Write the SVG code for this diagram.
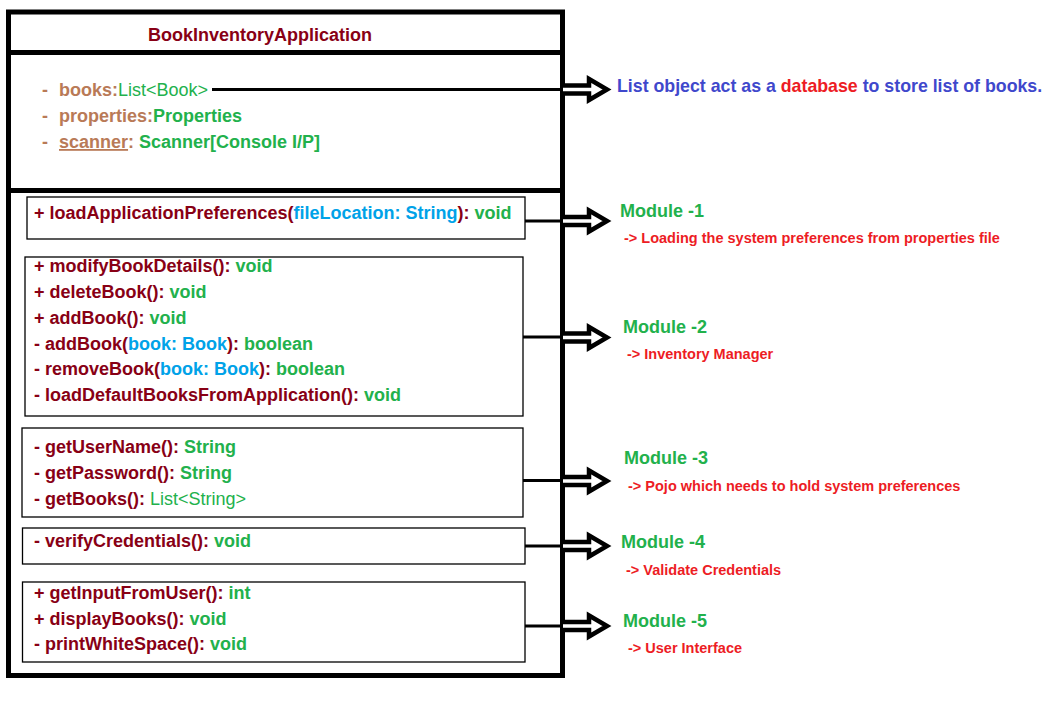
<svg xmlns="http://www.w3.org/2000/svg" width="1063" height="713" viewBox="0 0 1063 713">
<defs>
<style>
text{font-family:"Liberation Sans",Arial,sans-serif;font-weight:bold;font-size:18px}
.dr{fill:#880015}
.gr{fill:#22B14C}
.br{fill:#B97A57}
.bl{fill:#00A2E8}
.ind{fill:#3F48CC}
.rd{fill:#ED1C24}
.reg{font-weight:normal}
.desc{font-size:14.5px;fill:#ED1C24}
.note{font-size:17.75px}
.thick{fill:none;stroke:#000;stroke-width:5}
.box{fill:none;stroke:#000;stroke-width:1.3}
.conn{stroke:#000;stroke-width:3;fill:none}
.arr{fill:#fff;stroke:#000;stroke-width:4.5;stroke-linejoin:miter}
</style>
<path id="blockArrow" d="M0,-4 H26 V-10.5 L44,0 L26,10.5 V4 H0"/>
</defs>
<rect width="1063" height="713" fill="#fff"/>

<g id="class-BookInventoryApplication">
<rect class="thick" x="8.5" y="12" width="554" height="663.5"/>
<line class="thick" x1="8.5" y1="52.5" x2="562.5" y2="52.5"/>
<line class="thick" x1="8.5" y1="190.5" x2="562.5" y2="190.5"/>
<text class="dr" x="260" y="41" text-anchor="middle">BookInventoryApplication</text>
</g>

<g id="attributes">
<text class="br" x="42" y="96">-</text>
<text x="59" y="96"><tspan class="br">books:</tspan><tspan class="gr reg">List&lt;Book&gt;</tspan></text>
<text class="br" x="42" y="122">-</text>
<text x="59" y="122"><tspan class="br">properties:</tspan><tspan class="gr">Properties</tspan></text>
<text class="br" x="42" y="148">-</text>
<text x="59" y="148"><tspan class="br" text-decoration="underline">scanner</tspan><tspan class="br">:</tspan><tspan class="gr"> Scanner[Console I/P]</tspan></text>
</g>

<g id="module1-box">
<rect class="box" x="27" y="197" width="498" height="42"/>
<text x="34" y="219"><tspan class="dr">+ loadApplicationPreferences(</tspan><tspan class="bl">fileLocation: String</tspan><tspan class="dr">): </tspan><tspan class="gr">void</tspan></text>
</g>

<g id="module2-box">
<rect class="box" x="25" y="257" width="498" height="159"/>
<text x="34" y="272"><tspan class="dr">+ modifyBookDetails(): </tspan><tspan class="gr">void</tspan></text>
<text x="34" y="298"><tspan class="dr">+ deleteBook(): </tspan><tspan class="gr">void</tspan></text>
<text x="34" y="324"><tspan class="dr">+ addBook(): </tspan><tspan class="gr">void</tspan></text>
<text x="34" y="349.5"><tspan class="dr">- addBook(</tspan><tspan class="bl">book: Book</tspan><tspan class="dr">): </tspan><tspan class="gr">boolean</tspan></text>
<text x="34" y="375"><tspan class="dr">- removeBook(</tspan><tspan class="bl">book: Book</tspan><tspan class="dr">): </tspan><tspan class="gr">boolean</tspan></text>
<text x="34" y="401"><tspan class="dr">- loadDefaultBooksFromApplication(): </tspan><tspan class="gr">void</tspan></text>
</g>

<g id="module3-box">
<rect class="box" x="22" y="428" width="501" height="89"/>
<text x="34" y="453"><tspan class="dr">- getUserName(): </tspan><tspan class="gr">String</tspan></text>
<text x="34" y="479"><tspan class="dr">- getPassword(): </tspan><tspan class="gr">String</tspan></text>
<text x="34" y="505"><tspan class="dr">- getBooks(): </tspan><tspan class="gr reg">List&lt;String&gt;</tspan></text>
</g>

<g id="module4-box">
<rect class="box" x="22.5" y="528" width="502.5" height="36"/>
<text x="34" y="547"><tspan class="dr">- verifyCredentials(): </tspan><tspan class="gr">void</tspan></text>
</g>

<g id="module5-box">
<rect class="box" x="22.5" y="582" width="502.5" height="80"/>
<text x="34" y="599"><tspan class="dr">+ getInputFromUser(): </tspan><tspan class="gr">int</tspan></text>
<text x="34" y="624.5"><tspan class="dr">+ displayBooks(): </tspan><tspan class="gr">void</tspan></text>
<text x="34" y="650"><tspan class="dr">- printWhiteSpace(): </tspan><tspan class="gr">void</tspan></text>
</g>

<g id="connectors">
<line class="conn" x1="212" y1="89.5" x2="563" y2="89.5"/>
<line class="conn" x1="525" y1="221" x2="563" y2="221"/>
<line class="conn" x1="523" y1="337" x2="563" y2="337"/>
<line class="conn" x1="523" y1="480.5" x2="563" y2="480.5"/>
<line class="conn" x1="525" y1="546" x2="563" y2="546"/>
<line class="conn" x1="525" y1="626" x2="563" y2="626"/>
<use href="#blockArrow" class="arr" transform="translate(563,89.5)"/>
<use href="#blockArrow" class="arr" transform="translate(563,221)"/>
<use href="#blockArrow" class="arr" transform="translate(563,337.5)"/>
<use href="#blockArrow" class="arr" transform="translate(563,481)"/>
<use href="#blockArrow" class="arr" transform="translate(563,546)"/>
<use href="#blockArrow" class="arr" transform="translate(563,626)"/>
</g>

<g id="note-list">
<text class="note" x="617" y="92"><tspan class="ind">List object act as a </tspan><tspan class="rd">database</tspan><tspan class="ind"> to store list of books.</tspan></text>
</g>
<g id="note-module1">
<text class="gr" x="620" y="217">Module -1</text>
<text class="desc" x="624" y="243">-&gt; Loading the system preferences from properties file</text>
</g>
<g id="note-module2">
<text class="gr" x="623" y="333">Module -2</text>
<text class="desc" x="627" y="359">-&gt; Inventory Manager</text>
</g>
<g id="note-module3">
<text class="gr" x="624" y="464">Module -3</text>
<text class="desc" x="628" y="491">-&gt; Pojo which needs to hold system preferences</text>
</g>
<g id="note-module4">
<text class="gr" x="621" y="548">Module -4</text>
<text class="desc" x="626" y="575">-&gt; Validate Credentials</text>
</g>
<g id="note-module5">
<text class="gr" x="623" y="627">Module -5</text>
<text class="desc" x="628" y="653">-&gt; User Interface</text>
</g>
</svg>
